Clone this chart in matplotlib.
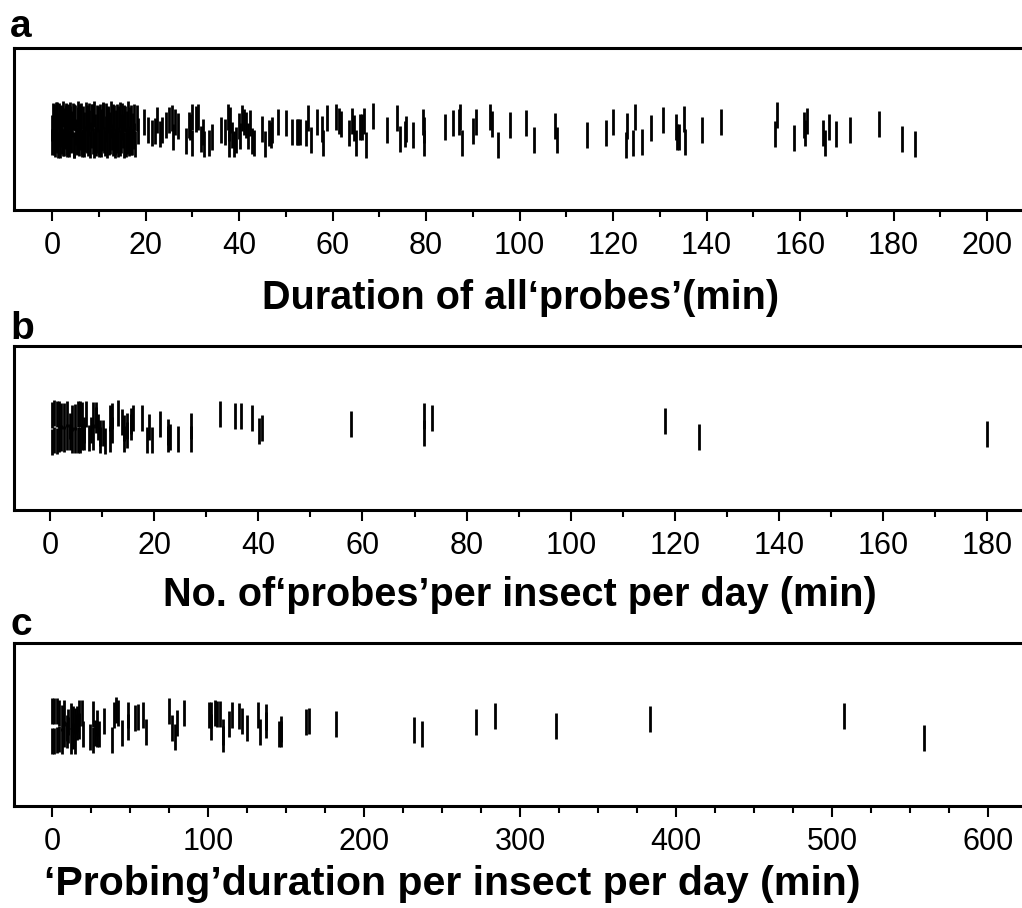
import numpy as np
import matplotlib.pyplot as plt
from matplotlib.ticker import MultipleLocator

plt.rcParams['font.family'] = ['Liberation Sans', 'DejaVu Sans']

# a: duration of every probe (min) and the vertical jitter of each mark
dur_all = [0.0, 0.2, 0.4, 0.6, 0.8, 1.0, 1.3, 1.5, 1.8, 2.0, 2.3, 2.5, 2.8, 3.0, 3.3, 3.5,
           3.8, 4.0, 4.3, 4.6, 4.8, 5.1, 5.4, 5.6, 5.9, 6.2, 6.5, 6.8, 7.1, 7.4, 7.7, 8.0,
           8.3, 8.6, 8.9, 9.2, 9.5, 9.8, 10.1, 10.4, 10.7, 11.0, 11.3, 11.6, 11.9, 12.2,
           12.5, 12.8, 13.1, 13.4, 13.7, 14.0, 14.3, 14.6, 14.9, 15.2, 15.5, 15.8, 16.1,
           16.4, 16.7, 17.0, 17.3, 17.6,
           0.1, 0.5, 0.7, 0.9, 1.15, 1.4, 1.65, 1.9, 2.15, 2.4, 2.65, 2.9, 3.15, 3.4, 3.65,
           3.9, 4.15, 4.45, 4.7, 4.95, 5.25, 5.5, 5.75, 6.05, 6.35, 6.65, 6.95, 7.25, 7.55,
           7.85, 8.15, 8.45, 8.75, 9.05, 9.35, 9.65, 9.95, 10.25, 10.55, 10.85, 11.15,
           11.45, 11.75, 12.05, 12.35, 12.65, 12.95, 13.25, 13.55, 13.85, 14.15, 14.45,
           14.75, 15.05, 15.35, 15.65, 15.95, 16.25, 16.55, 16.85, 17.15, 17.45, 17.8,
           18.1, 18.3, 19.7, 20.6, 21.3, 22.0, 22.5, 23.1, 23.6, 24.3, 25.0, 25.7, 25.9,
           26.3, 27.0, 28.6, 29.2, 29.5, 29.9, 30.0, 30.8, 31.2, 31.9, 32.4, 32.5, 33.6,
           34.2, 36.1, 37.0, 37.7, 37.8, 37.9, 38.1, 38.6, 39.0, 39.4, 40.1, 40.2, 40.6,
           41.0, 41.4, 41.9, 42.4, 42.8, 43.3, 44.9, 45.6, 46.4, 46.8, 47.1, 48.4, 50.1,
           51.3, 52.3, 52.7, 53.1, 54.3, 54.8, 55.4, 56.7, 57.7, 58.0, 58.8, 60.7, 61.4,
           61.8, 63.5, 64.1, 64.5, 65.0, 65.9, 66.4, 66.8, 67.1, 68.7, 71.7, 73.9, 74.4,
           75.5, 75.8, 77.2, 79.4, 79.5, 79.6, 84.1, 85.7, 87.0, 87.3, 87.8, 90.1, 90.8,
           93.7, 94.1, 95.4, 97.9, 101.3, 103.2, 107.7, 108.0, 114.4, 118.6, 120.1, 122.8,
           123.0, 124.2, 124.8, 126.1, 128.1, 130.7, 133.5, 133.6, 134.1, 135.1, 135.5,
           139.0, 143.0, 154.7, 155.1, 158.7, 160.9, 161.0, 161.4, 165.0, 165.4, 166.2,
           167.6, 170.7, 176.8, 181.8, 184.5]
jit_all = [1, 13, -13, 7, -9, 14, -16, 3, -5, 11, -14, 8, -7, 13, -15, 1,
           10, -11, 5, -16, 12, -3, -13, 9, -8, 13, -15, 4, -10, 11, -14, 6,
           -6, 12, -16, 2, -11, 10, -15, 7, -9, 13, -14, 0, 9, -13,
           4, -8, 12, -16, 6, -11, 10, -14, 2, -6, 11, -15, 5,
           -10, 9, -13, 3, -7,
           -13, 12, -15, 14, -11, 13, -16, 10, -12, 15, -14, 11, -13, 12, -15,
           14, -10, 13, -16, 11, -12, 15, -14, 12, -13, 10, -15, 14, -11,
           13, -16, 12, -12, 15, -14, 11, -13, 12, -15, 14, -11,
           13, -16, 10, -12, 15, -14, 11, -13, 12, -15, 14,
           -11, 13, -16, 10, -12, 15, -14, 11, -13, 12, -15,
           11, -2, 7, -1, -4, -2, 9, -5, -1, 4, 9, 11, -8,
           7, 3, -12, 4, 2, 12, -14, 10, 12, -10, -3, -15, -14,
           -8, -1, -3, 12, 1, -15, 9, -6, -15, -11, 3, -7, 11,
           7, 4, -7, 6, -12, -14, 0, -15, -4, -6, -1, 7, 6,
           -3, -3, -3, -3, -4, 11, -11, 7, 0, -14, 11, 12, 8,
           5, -4, 8, 1, -14, 2, 2, 8, -16, 13, -1, 11, -10,
           -5, 0, -6, 7, -1, -14, 2, 6, 7, 12, -14, -2, 7,
           12, 5, -16, 4, 6, -11, 3, -11, -6, -4, 7, -16,
           3, -14, 12, -13, 1, 9, 2, -8, -8, 10, -13,
           -1, 7, -5, 14, -9, 4, -4, 8, -4, -14, 2,
           -5, -1, 5, -10, -15]

# b: number of probes per insect per day
n_probes = [0.3, 0.3, 0.8, 0.8, 1.3, 1.3, 1.7, 1.7, 2.2, 2.2, 2.7, 2.7, 3.3, 3.3, 3.8, 3.8,
            4.3, 4.3, 4.8, 4.8, 5.3, 5.3, 5.8, 5.8, 6.2, 6.2, 6.6, 6.6, 7.0, 7.4, 7.9,
            8.3, 8.3, 8.8, 8.8, 9.2, 9.6, 9.6, 10.1, 10.6, 11.5, 11.5, 12.0, 12.0, 13.0,
            13.9, 14.3, 14.3, 14.7, 14.7, 15.6, 15.6, 16.0, 17.6, 18.6, 19.0, 19.5, 21.1,
            22.6, 22.6, 23.0, 24.6, 27.0, 27.0, 32.6, 35.5, 36.6, 38.7, 40.1, 40.7, 57.7,
            71.8, 71.8, 73.3, 118.1, 124.6, 179.9]
jit_probes = [13, -14, 15, -12, 14, -13, 14, -11, 12, -10, 12, -11, 14, -9, 2, -9,
              10, -12, 11, -12, 14, -12, 14, -12, 13, -9, -2, -9, 14, -10, -2,
              13, -9, 13, 8, 1, -5, -12, -5, -13, 10, -11, 12, -2, 15,
              6, 0, -11, 2, -7, 7, 1, 10, 10, -12, 1, -12, 4,
              -4, -11, -9, -11, 2, -11, 14, 12, 12, 10, -3, 0, 4,
              12, -5, 10, 7, -9, -6]

# c: probing duration per insect per day (min)
dur_day = [0.0, 0.0, 1.3, 1.3, 3.0, 3.0, 4.7, 4.7, 6.2, 6.2, 7.7, 7.7, 9.4, 9.4, 10.5, 10.5,
           12.0, 12.0, 13.2, 13.2, 14.7, 14.7, 16.2, 16.2, 17.5, 17.5, 19.0, 20.1, 24.4,
           26.1, 26.1, 27.6, 28.6, 28.6, 30.3, 33.3, 38.2, 39.7, 41.0, 42.5, 44.7, 48.9,
           48.9, 53.2, 54.9, 58.1, 60.0, 75.0, 76.7, 78.8, 79.9, 84.6, 100.9, 101.7,
           101.7, 104.5, 105.6, 107.7, 109.8, 109.8, 113.7, 115.4, 120.1, 121.6, 125.2,
           132.3, 133.3, 137.0, 137.0, 145.7, 146.6, 146.6, 162.6, 164.7, 182.1, 232.0,
           237.1, 271.9, 284.1, 323.1, 383.6, 507.5, 558.8]
jit_day = [14, -16, 14, -16, 14, -15, 12, -14, 7, -16, 12, -9, -3, -10, 3, -5,
           9, -16, 6, -11, 4, -16, 6, -2, 12, -1, 12, -9, -12,
           11, -15, -8, 2, -9, -9, 4, -15, 10, 15, 12, -8, 10,
           -2, 7, 8, 10, -7, 14, -3, -12, 2, 12, 10, 10,
           -2, 12, 11, 11, -7, -14, 1, 10, 9, 4, -3,
           10, -7, 8, 0, -9, -4, -9, 3, 4, 1, -5,
           -9, 3, 9, -1, 6, 9, -13]

W, H = 1022, 908
fig = plt.figure(figsize=(W / 100, H / 100), dpi=100)

# panel layout in pixels: top, bottom, x of zero tick, px per unit, major, minor,
# label centre x, label baseline, letter baseline, label size
panels = [
    (dur_all, jit_all, 'a', 'Duration of all\u2018probes\u2019(min)',
     48, 210, 52, 4.675, 20, 10, 521, 309, 37, 28.5),
    (n_probes, jit_probes, 'b', 'No. of\u2018probes\u2019per insect per day (min)',
     346, 510, 50, 5.208, 20, 10, 520, 606, 339, 28.5),
    (dur_day, jit_day, 'c', '\u2018Probing\u2019duration per insect per day (min)',
     643, 806, 52, 1.56, 100, 25, 452, 895, 635, 29.6),
]

right_px = 1040
for vals, jit, letter, label, top, bot, x0, ppu, major, minor, lx, ly, lety, lsize in panels:
    ax = fig.add_axes([14 / W, 1 - bot / H, (right_px - 14) / W, (bot - top) / H])
    half = (bot - top) / 2
    vals = np.array(vals)
    jit = np.array(jit)
    ax.vlines(vals, jit - 13, jit + 13, color='k', lw=2.0)
    ax.set_xlim(-(x0 - 14) / ppu, (right_px - x0) / ppu)
    ax.set_ylim(-half, half)
    ax.xaxis.set_major_locator(MultipleLocator(major))
    ax.xaxis.set_minor_locator(MultipleLocator(minor))
    ax.set_yticks([])
    ax.tick_params(axis='x', which='major', length=8, width=1.5, direction='out',
                   labelsize=22, pad=7,
                   labelfontfamily=['Liberation Sans Narrow', 'Liberation Sans'])
    ax.tick_params(axis='x', which='minor', length=5, width=1.5, direction='out')
    for s in ax.spines.values():
        s.set_linewidth(2.2)
    fig.text(lx / W, 1 - ly / H, label, fontsize=lsize, fontweight='bold',
             ha='center', va='baseline')
    fig.text(10 / W, 1 - lety / H, letter, fontsize=28, fontweight='bold',
             ha='left', va='baseline')

fig.savefig('out.png', dpi=100)
